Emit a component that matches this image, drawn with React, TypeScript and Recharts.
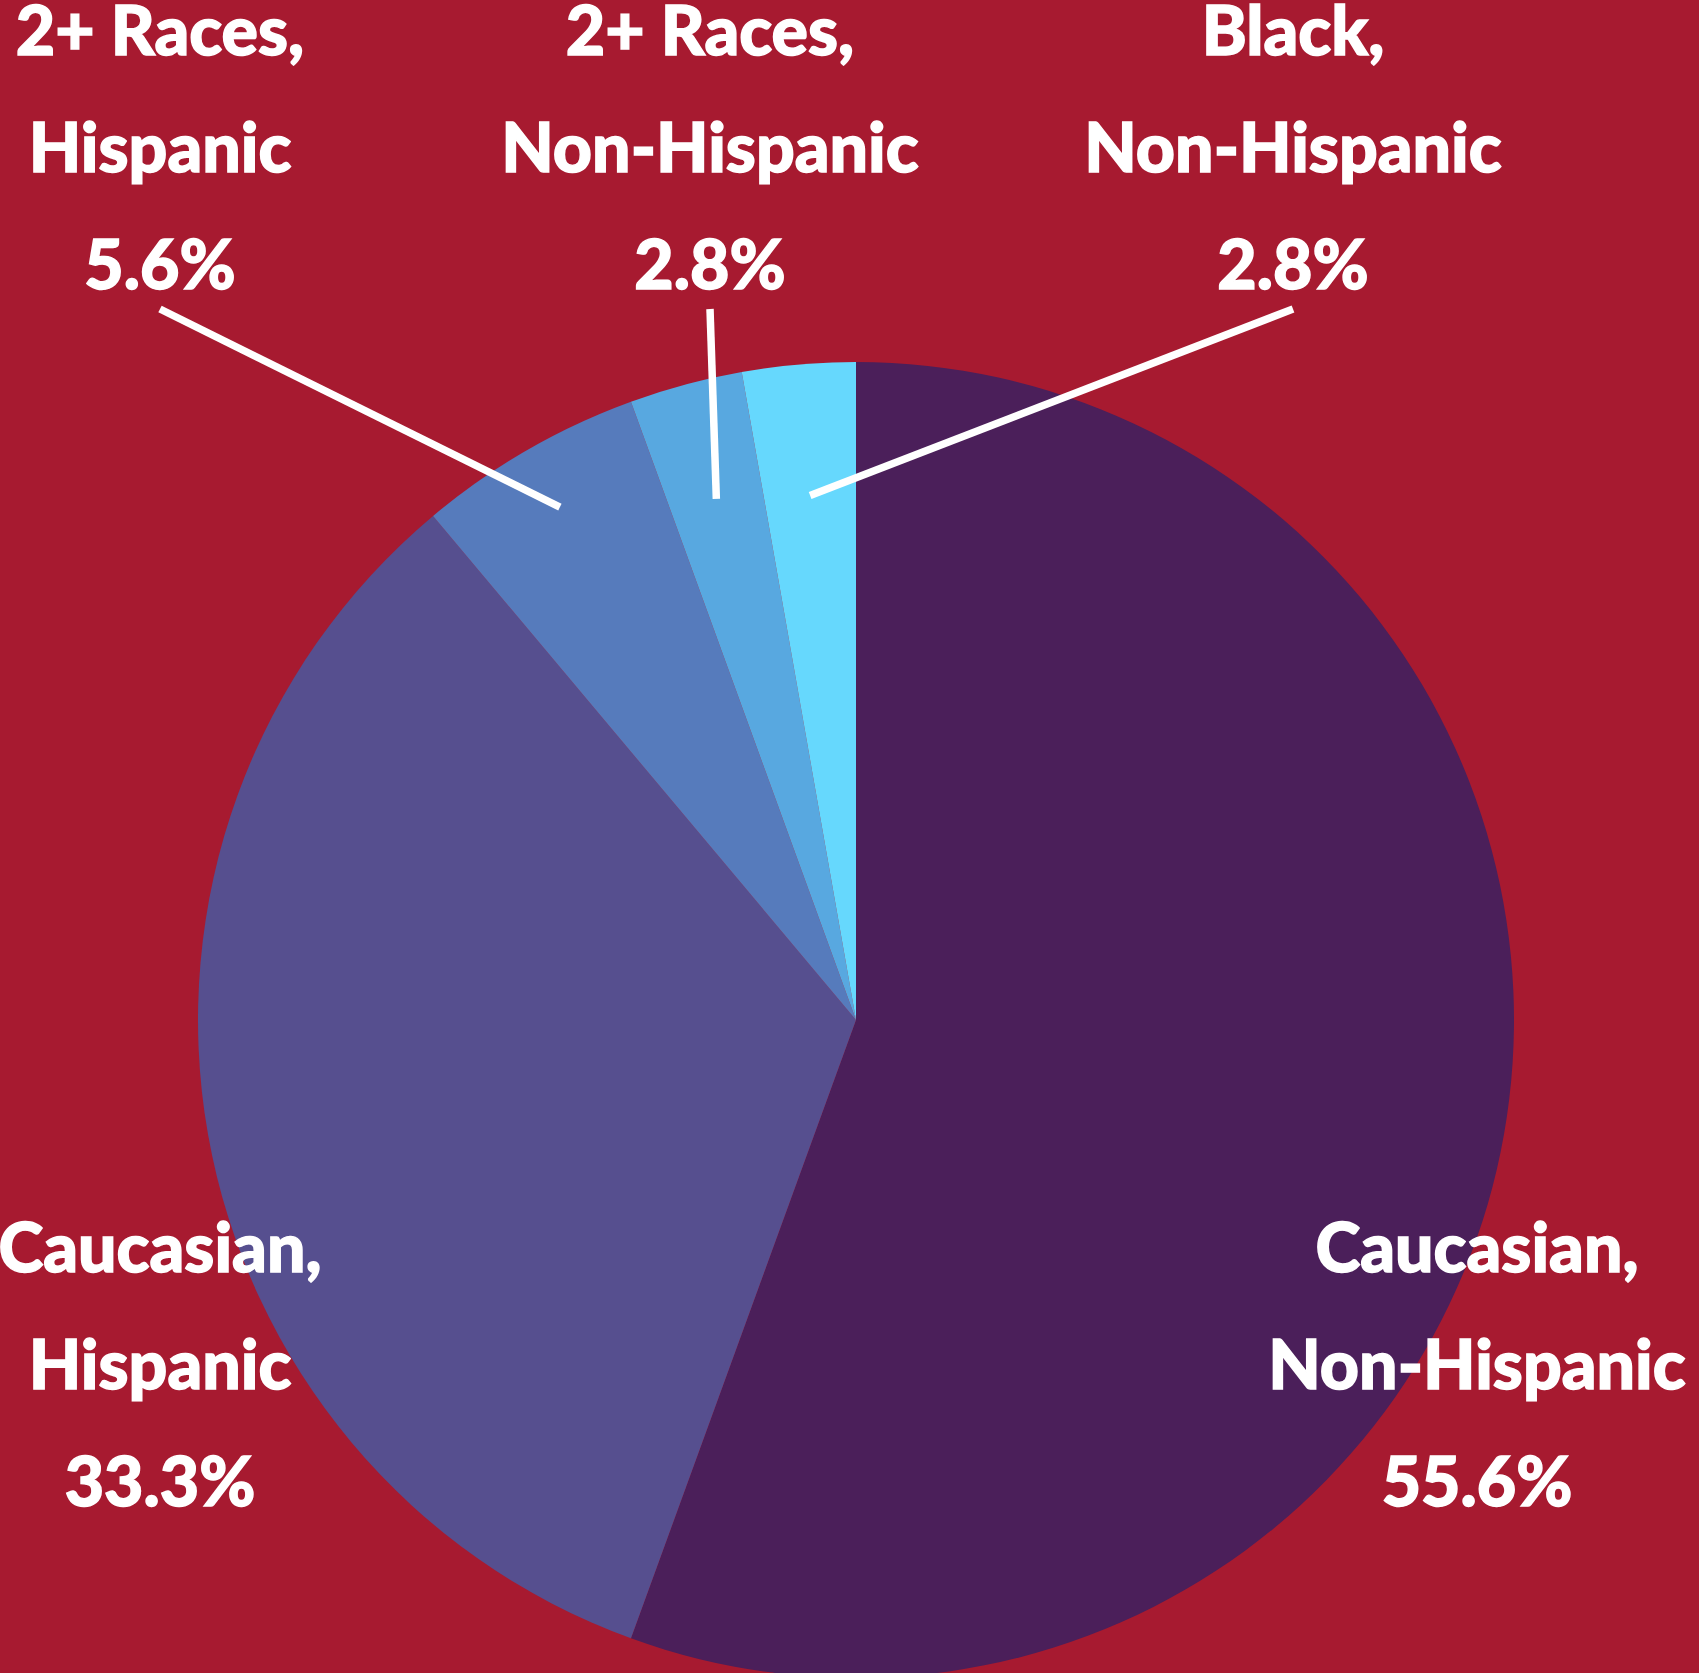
import React from "react";
import { PieChart, Pie, Cell } from "recharts";

// counts out of 36 students, clockwise from 12 o'clock
const groups = [
  "Caucasian, Non-Hispanic",
  "Caucasian, Hispanic",
  "2+ Races, Hispanic",
  "2+ Races, Non-Hispanic",
  "Black, Non-Hispanic",
];
const labelTop = ["Caucasian,", "Caucasian,", "2+ Races,", "2+ Races,", "Black,"];
const labelBottom = ["Non-Hispanic", "Hispanic", "Hispanic", "Non-Hispanic", "Non-Hispanic"];
const counts = [20, 12, 2, 1, 1];
const colors = ["#4B1F5A", "#564F8F", "#567BBC", "#58A8E0", "#66D8FD"];

const total = counts.reduce((a, b) => a + b, 0);
const data = groups.map((g, i) => ({ name: g, value: counts[i] }));

const W = 1699;
const H = 1673;
const CX = 856;
const CY = 1020;
const R = 658;
const RAD = Math.PI / 180;
const FONT = "Lato, 'Noto Sans', sans-serif";
const LINE_GAP = 117;

// where each label sits, relative to the pie center
const labelPos = [
  { dx: 621, dy: 252, leader: 0 },
  { dx: -696, dy: 252, leader: 0 },
  { dx: -696, dy: -965, leader: 0.9 },
  { dx: -146, dy: -965, leader: 0.82 },
  { dx: 437, dy: -965, leader: 0.8 },
];

const renderLabel = (props: any) => {
  const { cx, cy, midAngle, outerRadius, index } = props;
  const pos = labelPos[index];
  const x = cx + pos.dx;
  const y = cy + pos.dy;
  const pct = ((counts[index] / total) * 100).toFixed(1) + "%";
  let line = null;
  if (pos.leader) {
    const r = outerRadius * pos.leader;
    const ex = cx + Math.cos(-midAngle * RAD) * r;
    const ey = cy + Math.sin(-midAngle * RAD) * r;
    line = (
      <line
        x1={x}
        y1={y + LINE_GAP * 2 + 20}
        x2={ex}
        y2={ey}
        stroke="#FFFFFF"
        strokeWidth={7.5}
      />
    );
  }
  return (
    <g key={`lbl-${index}`}>
      {line}
      <text
        x={x}
        y={y}
        textAnchor="middle"
        fill="#FFFFFF"
        stroke="#FFFFFF"
        strokeWidth={1.4}
        fontFamily={FONT}
        fontWeight={900}
        fontSize={68}
      >
        <tspan x={x} y={y}>{labelTop[index]}</tspan>
        <tspan x={x} y={y + LINE_GAP}>{labelBottom[index]}</tspan>
        <tspan x={x} y={y + LINE_GAP * 2}>{pct}</tspan>
      </text>
    </g>
  );
};

export default function App() {
  return (
    <div
      style={{
        position: "absolute",
        top: 0,
        left: 0,
        width: W,
        height: H,
        background: "#A71A30",
        overflow: "hidden",
      }}
    >
      <PieChart width={W} height={H} margin={{ top: 0, right: 0, bottom: 0, left: 0 }}>
        <Pie
          data={data}
          dataKey="value"
          nameKey="name"
          cx={CX}
          cy={CY}
          outerRadius={R}
          startAngle={90}
          endAngle={-270}
          stroke="none"
          labelLine={false}
          label={renderLabel}
          isAnimationActive={false}
        >
          {data.map((d, i) => (
            <Cell key={d.name} fill={colors[i]} />
          ))}
        </Pie>
      </PieChart>
    </div>
  );
}
